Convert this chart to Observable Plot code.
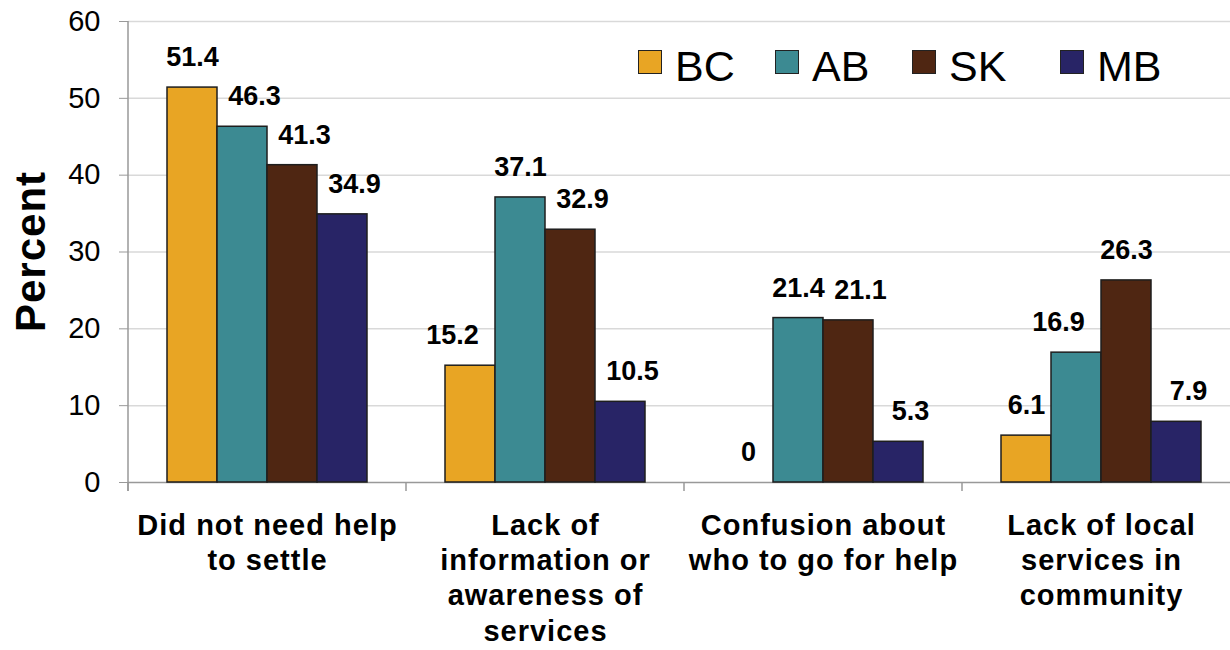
<!DOCTYPE html>
<html><head><meta charset="utf-8">
<script src="https://cdn.jsdelivr.net/npm/d3@7"></script>
<script src="https://cdn.jsdelivr.net/npm/@observablehq/plot@0.6"></script>
<style>
body{margin:0;background:#fff;overflow:hidden;font-family:"Liberation Sans",Arial,sans-serif;}
#wrap{position:relative;width:1230px;height:650px;}
#legend{position:absolute;left:638px;top:45px;display:flex;font-size:43px;line-height:43px;color:#000;}
.item{display:flex;align-items:flex-start;}
.sw{width:22px;height:22px;border:1.5px solid #222;margin-top:5px;margin-right:13px;}
g[aria-label="fx-axis tick label"] text{letter-spacing:1px;}
g[aria-label="value label"] text{letter-spacing:1.5px;}
</style></head><body><div id="wrap"><div id="legend"></div></div>
<script>
const categories = [
  "Did not need help\nto settle",
  "Lack of\ninformation or\nawareness of\nservices",
  "Confusion about\nwho to go for help",
  "Lack of local\nservices in\ncommunity"
];
const provinces = ["BC", "AB", "SK", "MB"];
const colors = ["#E8A524", "#3C8A92", "#4F2612", "#282466"];
const valuesBC = [51.4, 15.2, 0, 6.1];
const valuesAB = [46.3, 37.1, 21.4, 16.9];
const valuesSK = [41.3, 32.9, 21.1, 26.3];
const valuesMB = [34.9, 10.5, 5.3, 7.9];
const yTicks = [0, 10, 20, 30, 40, 50, 60];

const series = [valuesBC, valuesAB, valuesSK, valuesMB];
const rows = [];
categories.forEach((c, i) => {
  provinces.forEach((p, j) => {
    const v = series[j][i];
    const left = j > 0 ? series[j - 1][i] : -Infinity;
    const right = j < provinces.length - 1 ? series[j + 1][i] : -Infinity;
    const label = String(v);
    let nudge = 0;
    if (left > v) nudge = 1;
    else if (right > v && label.length >= 4) nudge = -1;
    rows.push({category: c, province: p, value: v, label, nudge});
  });
});

const valueText = (filter, dx) => Plot.text(rows.filter(filter), {
  fx: "category", x: "province", y: "value", text: "label",
  dy: -30, dx, fontSize: 27, fontWeight: "bold", fill: "#000", ariaLabel: "value label"
});

const chart = Plot.plot({
  width: 1230, height: 650,
  marginTop: 21, marginBottom: 168, marginLeft: 126, marginRight: -11,
  style: {fontFamily: "Liberation Sans, Arial, sans-serif", background: "white", color: "#000"},
  fx: {domain: categories, padding: 0, label: null},
  x: {domain: provinces, paddingInner: 0, paddingOuter: 0.76, axis: null},
  y: {domain: [0, 60], label: null},
  color: {domain: provinces, range: colors},
  marks: [
    Plot.ruleY(yTicks.filter(d => d > 0), {stroke: "#d9d9d9", strokeWidth: 1.5}),
    Plot.ruleY([0], {stroke: "#999", strokeWidth: 1.5}),
    Plot.barY(rows.filter(d => d.value > 0), {
      fx: "category", x: "province", y: "value", fill: "province",
      stroke: "#1e1e1e", strokeWidth: 1.5
    }),
    valueText(d => d.nudge === 0, 0),
    valueText(d => d.nudge === 1, 12),
    valueText(d => d.nudge === -1, -18),
    Plot.axisY({ticks: yTicks, tickSize: 9, tickPadding: 19, fontSize: 29, stroke: "#999", label: null}),
    Plot.axisFx({anchor: "bottom", tickSize: 0, tickPadding: 27, fontSize: 29, fontWeight: "bold", lineHeight: 1.22, label: null})
  ]
});

document.getElementById("wrap").appendChild(chart);

// axis line, category boundary ticks and y label, positioned from Plot's scales
const fx = chart.scale("fx");
const ys = chart.scale("y");
const y0 = ys.apply(0), yTop = ys.apply(60);
const bounds = categories.map(c => fx.apply(c));
bounds.push(fx.apply(categories[categories.length - 1]) + fx.bandwidth);
const g = d3.select(chart).append("g");
g.append("line").attr("x1", bounds[0]).attr("x2", bounds[0]).attr("y1", yTop).attr("y2", y0 + 9)
  .attr("stroke", "#999").attr("stroke-width", 1.5);
g.selectAll(".bt").data(bounds).join("line")
  .attr("x1", d => d).attr("x2", d => d).attr("y1", y0).attr("y2", y0 + 9)
  .attr("stroke", "#999").attr("stroke-width", 1.5);
g.append("text").text("Percent")
  .attr("transform", `translate(${bounds[0] - 83},${(y0 + yTop) / 2}) rotate(-90)`)
  .attr("text-anchor", "middle").attr("font-size", 42).attr("font-weight", "bold")
  .attr("letter-spacing", "1px").attr("fill", "#000");

// legend
const widths = [137, 137, 148, null];
const legend = d3.select("#legend");
provinces.forEach((p, i) => {
  const item = legend.append("div").attr("class", "item");
  if (widths[i]) item.style("width", widths[i] + "px");
  item.append("div").attr("class", "sw").style("background", colors[i]);
  item.append("span").text(p);
});
</script>
</body></html>
